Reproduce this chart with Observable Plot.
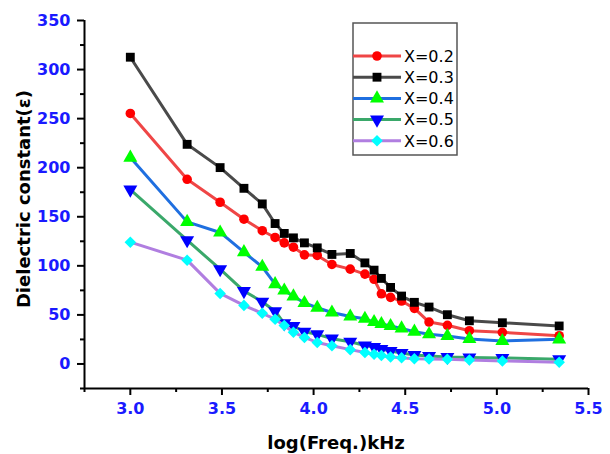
<!DOCTYPE html>
<html><head><meta charset="utf-8">
<script src="https://cdn.jsdelivr.net/npm/d3@7"></script>
<script src="https://cdn.jsdelivr.net/npm/@observablehq/plot@0.6"></script>
<style>body{margin:0;background:#fff}#chart{width:610px;height:454px}</style>
</head><body><div id="chart"></div>
<script>
// ---- data ----
const logFreq = [3.0, 3.31, 3.49, 3.62, 3.72, 3.79, 3.84, 3.89, 3.95, 4.02, 4.10, 4.20, 4.28, 4.33, 4.37, 4.42, 4.48, 4.55, 4.63, 4.73, 4.85, 5.03, 5.34];
const seriesNames = ["X=0.2", "X=0.3", "X=0.4", "X=0.5", "X=0.6"];
const epsX02 = [255.3, 188.2, 164.8, 147.5, 135.8, 128.9, 123.4, 119.0, 111.2, 110.6, 101.4, 96.6, 91.6, 86.3, 71.5, 67.9, 64.1, 56.7, 42.7, 39.4, 33.9, 32.2, 28.8];
const epsX03 = [312.6, 223.8, 200.1, 179.0, 163.1, 143.1, 133.0, 128.5, 123.4, 118.3, 111.6, 112.6, 103.0, 95.6, 87.2, 78.0, 69.2, 62.8, 58.0, 50.2, 44.0, 42.0, 38.7];
const epsX04 = [210.3, 144.8, 134.0, 113.9, 99.0, 81.4, 74.8, 68.9, 62.1, 57.3, 52.4, 48.3, 46.0, 42.7, 40.7, 38.7, 36.3, 32.9, 30.2, 28.5, 25.4, 23.4, 25.1];
const epsX05 = [177.7, 126.1, 96.6, 74.3, 63.4, 53.7, 41.4, 38.7, 32.9, 30.2, 25.8, 22.7, 18.8, 17.3, 15.3, 13.2, 11.2, 9.2, 8.1, 7.1, 6.6, 6.1, 4.8];
const epsX06 = [124.1, 105.8, 71.9, 59.7, 51.6, 45.6, 39.2, 32.4, 27.0, 21.9, 18.6, 14.6, 11.7, 9.9, 8.7, 7.2, 6.3, 5.4, 5.1, 4.8, 4.1, 3.1, 1.7];
const yTicks = [0, 50, 100, 150, 200, 250, 300, 350];
const yMinorTicks = [-25, 25, 75, 125, 175, 225, 275, 325];
const xTicks = [3.0, 3.5, 4.0, 4.5, 5.0, 5.5];
const xMinorTicks = [2.75, 3.25, 3.75, 4.25, 4.75, 5.25];
const xLabel = "log(Freq.)kHz";
const yLabel = "Dielectric constant(ε)";

// ---- styles ----
const allValues = [epsX02, epsX03, epsX04, epsX05, epsX06];
const lineColors = ["#ef4646", "#4a4a4a", "#1f6fe0", "#3aa86a", "#b07ee0"];
const markColors = ["#ff0000", "#000000", "#00ff00", "#0000ff", "#00ffff"];
const symbols = ["circle", "square", "triangle", "triangle", "square"];
const rotations = [0, 0, 0, 180, 45];
const radii = [4.8, 5.0, 5.2, 5.2, 4.6];

const rows = seriesNames.flatMap((s, i) => logFreq.map((x, j) => ({series: s, idx: i, x, y: allValues[i][j]})));

const marks = [];
seriesNames.forEach((s, i) => {
  const d = rows.filter(r => r.series === s);
  marks.push(Plot.line(d, {x: "x", y: "y", stroke: lineColors[i], strokeWidth: 3}));
  marks.push(Plot.dot(d, {x: "x", y: "y", symbol: symbols[i], r: radii[i], fill: markColors[i], stroke: "none", rotate: rotations[i]}));
});

const chart = Plot.plot({
  width: 610, height: 454,
  marginLeft: 84, marginRight: 22, marginTop: 20, marginBottom: 66,
  x: {domain: [2.75, 5.5]},
  y: {domain: [-25, 350]},
  style: {fontFamily: "DejaVu Sans", background: "white", overflow: "visible"},
  marks: [
    Plot.axisY({ticks: yTicks, tickSize: 7, tickPadding: 7, strokeWidth: 2, stroke: "black", fill: "#1a1aff", fontSize: 16, fontWeight: "bold", label: null, tickFormat: d => String(d)}),
    Plot.axisY({ticks: yMinorTicks, tickSize: 4, strokeWidth: 2, stroke: "black", label: null, tickFormat: () => ""}),
    Plot.axisX({ticks: xTicks, tickSize: 7, tickPadding: 7, strokeWidth: 2, stroke: "black", fill: "#1a1aff", fontSize: 16, fontWeight: "bold", label: null, tickFormat: d3.format(".1f")}),
    Plot.axisX({ticks: xMinorTicks, tickSize: 4, strokeWidth: 2, stroke: "black", label: null, tickFormat: () => ""}),
    Plot.ruleX([2.75], {stroke: "black", strokeWidth: 2}),
    Plot.ruleY([-25], {stroke: "black", strokeWidth: 2}),
    ...marks
  ]
});
document.getElementById("chart").appendChild(chart);

// ---- axis titles & legend ----
const svg = d3.select(chart);
svg.append("text").attr("x", 336).attr("y", 449).attr("text-anchor", "middle")
  .attr("font-family", "DejaVu Sans").attr("font-weight", "bold").attr("font-size", 18).attr("fill", "black").text(xLabel);
svg.append("text").attr("transform", "translate(30,199) rotate(-90)").attr("text-anchor", "middle")
  .attr("font-family", "DejaVu Sans").attr("font-weight", "bold").attr("font-size", 18).attr("fill", "black").text(yLabel);

const lg = svg.append("g");
lg.append("rect").attr("x", 353).attr("y", 23).attr("width", 104).attr("height", 132)
  .attr("fill", "white").attr("stroke", "#555").attr("stroke-width", 1.5);
const symMap = {circle: d3.symbolCircle, square: d3.symbolSquare, triangle: d3.symbolTriangle};
seriesNames.forEach((s, i) => {
  const yy = 56 + i * 21.2;
  lg.append("line").attr("x1", 353).attr("x2", 401).attr("y1", yy).attr("y2", yy)
    .attr("stroke", lineColors[i]).attr("stroke-width", 3);
  lg.append("path").attr("d", d3.symbol(symMap[symbols[i]], Math.PI * radii[i] * radii[i])())
    .attr("transform", `translate(377,${yy}) rotate(${rotations[i]})`).attr("fill", markColors[i]);
  lg.append("text").attr("x", 404).attr("y", yy).attr("dy", "0.36em").attr("text-anchor", "start")
    .attr("font-family", "DejaVu Sans").attr("font-size", 16).attr("fill", "black").text(s);
});
</script>
</body></html>
